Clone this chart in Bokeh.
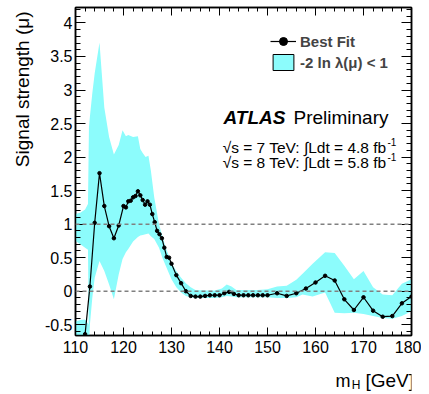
from bokeh.plotting import figure
from bokeh.layouts import column
from bokeh.models import (Range1d, LinearAxis, Label, Span, FixedTicker, Title,
                          NumeralTickFormatter, Legend, LegendItem)
from bokeh.embed import file_html
from bokeh.resources import INLINE

# ---------------- data ----------------
fit_mass = [110, 111, 112, 113, 114, 115, 116, 117, 118, 119, 120,
            120.5, 121, 121.5, 122, 122.5, 123, 123.5, 124, 124.5, 125,
            125.5, 126, 126.5, 127, 127.5, 128, 128.5, 129, 129.5, 130,
            131, 132, 133, 134, 135, 136, 137, 138, 139, 140,
            141, 142, 143, 144, 145, 146, 147, 148, 149, 150,
            152, 154, 156, 158, 160, 162, 164, 166, 168, 170,
            172, 174, 176, 178, 180]
fit_mu = [-1.3, -1.0, -0.64, 0.07, 1.02, 1.76, 1.27, 0.97, 0.79, 0.98, 1.27,
          1.25, 1.34, 1.35, 1.40, 1.42, 1.49, 1.43, 1.36, 1.29, 1.34,
          1.29, 1.15, 1.03, 0.90, 0.85, 0.79, 0.65, 0.51, 0.50, 0.41,
          0.24, 0.12, 0.0, -0.07, -0.08, -0.08, -0.07, -0.06, -0.06, -0.06,
          -0.03, -0.01, -0.04, -0.06, -0.06, -0.06, -0.06, -0.06, -0.06, -0.06,
          -0.03, -0.07, -0.03, 0.04, 0.13, 0.23, 0.16, -0.12, -0.28, -0.09,
          -0.29, -0.38, -0.37, -0.18, -0.08]

band_mass = [110, 111, 112, 112.6, 112.8,
             113, 113.5, 114, 115, 116, 117, 118, 119, 119.8,
             120.5, 121, 122, 123, 123.5, 124, 124.6, 125.2, 125.7, 126.4,
             127.4, 128.1, 128.8, 129.5, 130,
             131, 132, 133, 134, 135,
             137, 139, 140.5, 141.5, 142.5, 143.5,
             146, 148, 150, 152, 154, 156,
             157.3, 159.4, 162, 164, 166, 168, 170, 172, 174, 176, 178, 180]
band_hi = [1.15, 1.17, 1.22, 1.3, 2.44,
           2.6, 2.95, 3.25, 3.71, 2.74, 2.30, 2.04, 2.18, 2.40,
           2.31, 2.33, 2.30, 2.31, 2.12, 2.06, 2.0, 2.02, 1.8, 1.4,
           1.0, 0.82, 0.65, 0.52, 0.42,
           0.3, 0.2, 0.12, 0.06, 0.02,
           0.01, 0.01, 0.04, 0.1, 0.07, 0.02,
           0.02, 0.02, 0.03, 0.07, 0.08, 0.17,
           0.26, 0.41, 0.58, 0.57, 0.38, 0.18, 0.30, 0.06, -0.05, -0.06, 0.11, 0.18]
band_lo = [0.75, 0.7, 0.65, 0.62, -0.8,
           -0.5, -0.1, 0.2, 0.45, 0.3, 0.1, -0.12, 0.25, 0.48,
           0.58, 0.63, 0.74, 0.81, 0.83, 0.84, 0.85, 0.86, 0.82, 0.78,
           0.65, 0.5, 0.38, 0.26, 0.18,
           0.06, -0.02, -0.07, -0.09, -0.1,
           -0.1, -0.1, -0.09, -0.07, -0.08, -0.09,
           -0.09, -0.09, -0.09, -0.1, -0.1, -0.09,
           -0.05, -0.08, -0.02, -0.32, -0.33, -0.32, -0.34, -0.37, -0.40, -0.41, -0.37, -0.30]

lobe_mass = [110, 111, 112, 112.8]
lobe_hi = [-0.45, -0.43, -0.42, -0.5]
lobe_lo = [-0.9, -0.9, -0.9, -0.9]

x_ticks = [110, 120, 130, 140, 150, 160, 170, 180]
y_ticks = [-0.5, 0, 0.5, 1, 1.5, 2, 2.5, 3, 3.5, 4]
ref_lines = [0, 1]

CYAN = "#8cfcfc"
FONT = "Liberation Sans"

# ---------------- main figure ----------------
p = figure(width=421, height=360, output_backend="svg", toolbar_location=None,
           x_range=Range1d(110, 180), y_range=Range1d(-0.66, 4.23),
           min_border_left=68, min_border_right=10, min_border_top=7,
           min_border_bottom=25)
p.xgrid.grid_line_color = None
p.ygrid.grid_line_color = None
p.outline_line_color = "black"
p.outline_line_width = 1.5
p.background_fill_color = "white"
p.border_fill_color = "white"

xminor = [110 + 2 * i for i in range(36)]
yminor = [round(-0.6 + 0.1 * i, 2) for i in range(49)]

def style_axis(ax, ticks, minor, tin, minin, labels=True):
    ax.ticker = FixedTicker(ticks=ticks, minor_ticks=minor)
    ax.major_tick_in = tin
    ax.major_tick_out = 0
    ax.minor_tick_in = minin
    ax.minor_tick_out = 0
    ax.major_tick_line_color = "black"
    ax.minor_tick_line_color = "black"
    ax.axis_line_color = "black"
    ax.axis_line_width = 1.5
    if labels:
        ax.major_label_text_font = FONT
        ax.major_label_text_font_size = "16px"
        ax.major_label_text_color = "black"
    else:
        ax.major_label_text_font_size = "0px"
        ax.major_label_standoff = 0

style_axis(p.xaxis[0], x_ticks, xminor, 8, 4)
style_axis(p.yaxis[0], y_ticks, yminor, 10, 5)
p.xaxis[0].major_label_standoff = 5
p.yaxis[0].major_label_standoff = 3
p.yaxis[0].formatter = NumeralTickFormatter(format="0.[0]")

top_ax = LinearAxis()
style_axis(top_ax, x_ticks, xminor, 8, 4, labels=False)
p.add_layout(top_ax, "above")
right_ax = LinearAxis()
style_axis(right_ax, y_ticks, yminor, 10, 5, labels=False)
p.add_layout(right_ax, "right")

# y axis title (ROOT style: aligned to the top end)
p.add_layout(Title(text="Signal strength (\u03bc)", align="right", text_font=FONT,
                   text_font_size="19px", text_font_style="normal",
                   text_color="black", standoff=18, offset=4), "left")

# ---------------- band and fit ----------------
p.varea(x=band_mass, y1=band_lo, y2=band_hi, fill_color=CYAN)
p.varea(x=lobe_mass, y1=lobe_lo, y2=lobe_hi, fill_color=CYAN)

for yv in ref_lines:
    p.add_layout(Span(location=yv, dimension="width", line_color="#808080",
                      line_dash="4 3", line_width=1.5))

line_r = p.line(fit_mass, fit_mu, line_color="black", line_width=1.2)
dots_r = p.scatter(fit_mass, fit_mu, size=3.5, color="black")

# zero-size swatch used only for the legend entry of the band
box_r = p.rect(x=band_mass[:1], y=band_hi[:1], width=0, height=0,
               fill_color=CYAN, line_color="black", line_width=1)

legend = Legend(items=[LegendItem(label="Best Fit", renderers=[line_r, dots_r]),
                       LegendItem(label="-2 ln \u03bb(\u03bc) < 1", renderers=[box_r])],
                location=(195, 263), orientation="vertical",
                glyph_width=26, glyph_height=20, label_height=20, spacing=1,
                padding=0, margin=0, label_standoff=4,
                border_line_alpha=0, background_fill_alpha=0,
                label_text_font=FONT, label_text_font_style="bold",
                label_text_font_size="15px")
p.add_layout(legend, "center")

# ---------------- texts inside the frame ----------------
def lab(fig, x, y, text, size, style="normal", align="left", baseline="alphabetic"):
    fig.add_layout(Label(x=x, y=y, x_units="screen", y_units="screen", text=text,
                         text_font=FONT, text_font_size=size, text_font_style=style,
                         text_align=align, text_baseline=baseline,
                         text_color="black"))

lab(p, 148, 218, "ATLAS", "19px", style="bold italic")
lab(p, 218, 218, "Preliminary", "19px")
lab(p, 311, 188, "\u221as = 7 TeV: \u222bLdt = 4.8 fb", "15.5px", align="right")
lab(p, 312, 194, "-1", "10px")
lab(p, 311, 173, "\u221as = 8 TeV: \u222bLdt = 5.8 fb", "15.5px", align="right")
lab(p, 312, 179, "-1", "10px")

# ---------------- strip below for the x-axis title ----------------
p2 = figure(width=421, height=34, output_backend="svg", toolbar_location=None,
            x_range=Range1d(0, 1), y_range=Range1d(0, 1),
            min_border_left=0, min_border_right=0, min_border_top=0,
            min_border_bottom=0)
p2.axis.visible = False
p2.grid.visible = False
p2.outline_line_color = None
# positions are measured from the left edge of the main plot frame
lab(p2, 290, 14, "[GeV]", "19px")
lab(p2, 285, 10, "H", "12px", align="right")
lab(p2, 275, 14, "m", "18px", align="right")

layout = column(p, p2, spacing=0)
open("out.html", "w").write(file_html(layout, INLINE))
